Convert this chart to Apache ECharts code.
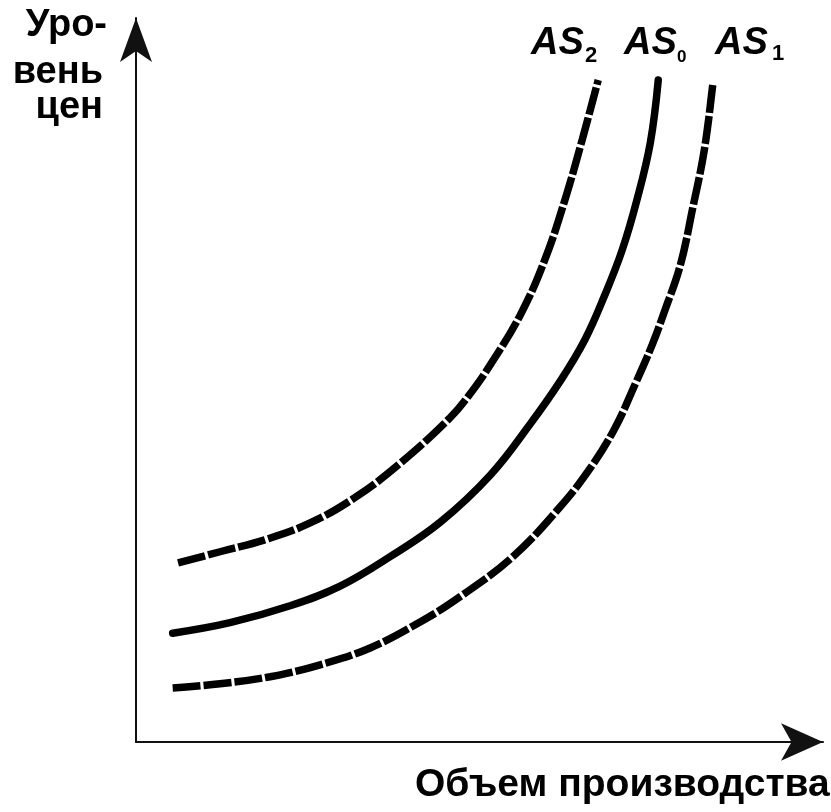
<!DOCTYPE html>
<html>
<head>
<meta charset="utf-8">
<script src="https://cdn.jsdelivr.net/npm/echarts@6/dist/echarts.min.js"></script>
<style>html,body{margin:0;padding:0;background:#fff;}#c{width:831px;height:812px;}</style>
</head>
<body>
<div id="c"></div>
<script>
// Series values (unitless: output volume on x, price level on y)
const as2X = [6.3, 12.6, 19.3, 26.1, 32.8, 39.6, 47.1, 50.1, 53.1, 57.6, 61.3, 64.3, 66.9, 69.3];
const as2Y = [25.5, 27.1, 28.8, 31.2, 34.8, 39.7, 46.2, 49.6, 53.7, 60.8, 68.7, 77.2, 85.8, 94.3];
const as0X = [5.5, 14.1, 23.1, 30.6, 38.1, 45.6, 53.1, 59.1, 63.6, 67.3, 70.3, 72.9, 75.1, 77.1, 78.3];
const as0Y = [15.5, 17.0, 19.4, 22.2, 26.4, 31.3, 38.0, 45.3, 51.4, 57.3, 63.7, 70.1, 77.2, 85.3, 94.3];
const as1X = [5.5, 12.6, 20.1, 27.6, 35.1, 42.6, 48.6, 56.5, 63.6, 68.1, 71.8, 74.8, 77.4, 79.3, 81.6, 83.5, 85.2, 86.5];
const as1Y = [7.7, 8.3, 9.3, 11.0, 13.4, 17.1, 20.7, 26.4, 33.5, 39.0, 44.7, 50.9, 56.6, 61.5, 67.9, 76.2, 84.3, 93.9];
const seriesNames = ['AS2', 'AS0', 'AS1'];
const subLabels = ['2', '0', '1'];
const yTitleLines = ['Уро-', 'вень', 'цен'];
const xTitle = 'Объем производства';

const zip = (xs, ys) => xs.map((x, i) => [x, ys[i]]);
const chart = echarts.init(document.getElementById('c'), null, {renderer: 'canvas'});

const axisCommon = {
  type: 'value', min: 0,
  axisTick: {show: false}, axisLabel: {show: false}, splitLine: {show: false}
};
const dashStyle = {color: '#000', width: 7.5, type: [28, 3], cap: 'butt'};
const solidStyle = {color: '#000', width: 7.5, cap: 'round'};

const asFont = {fontFamily: 'Liberation Sans', fontWeight: 'bold', fontStyle: 'italic', fontSize: 38, fill: '#000'};
const subFont = {fontFamily: 'Liberation Sans', fontWeight: 'bold', fontSize: 22, fill: '#000'};
const subFontSmall = {fontFamily: 'Liberation Sans', fontWeight: 'bold', fontSize: 17, fill: '#000'};
const titleFont = {fontFamily: 'Liberation Sans', fontWeight: 'bold', fontSize: 38, fill: '#000'};
const xTitleFont = {fontFamily: 'Liberation Sans', fontWeight: 'bold', fontSize: 39, fill: '#000'};

function txt(x, y, text, font, align) {
  return {type: 'text', x: x, y: y, style: Object.assign({text: text, verticalAlign: 'middle', align: align || 'left'}, font)};
}

chart.setOption({
  animation: false,
  backgroundColor: '#fff',
  grid: {left: 136, right: 8, top: 18, bottom: 70},
  xAxis: Object.assign({}, axisCommon, {
    max: 103,
    axisLine: {show: true, onZero: false, symbol: ['none', 'arrow'], symbolSize: [28, 42], lineStyle: {color: '#111', width: 2}}
  }),
  yAxis: Object.assign({}, axisCommon, {
    max: 103.13,
    axisLine: {show: true, onZero: false, symbol: ['none', 'arrow'], symbolSize: [24, 44], lineStyle: {color: '#111', width: 2}}
  }),
  series: [
    {name: seriesNames[0], type: 'line', smooth: 0.4, symbol: 'none', lineStyle: dashStyle, data: zip(as2X, as2Y)},
    {name: seriesNames[1], type: 'line', smooth: 0.4, symbol: 'none', lineStyle: solidStyle, data: zip(as0X, as0Y)},
    {name: seriesNames[2], type: 'line', smooth: 0.4, symbol: 'none', lineStyle: dashStyle, data: zip(as1X, as1Y)}
  ],
  graphic: [
    txt(531, 44, 'AS', asFont),
    txt(585, 56, subLabels[0], subFont),
    txt(624, 44, 'AS', asFont),
    txt(677, 57, subLabels[1], subFontSmall),
    txt(715, 44, 'AS', asFont),
    txt(772, 54, subLabels[2], subFont),
    txt(107, 26, yTitleLines[0], titleFont, 'right'),
    txt(103, 73, yTitleLines[1], titleFont, 'right'),
    txt(103, 108, yTitleLines[2], titleFont, 'right'),
    txt(415, 785, xTitle, xTitleFont)
  ]
});
</script>
</body>
</html>
